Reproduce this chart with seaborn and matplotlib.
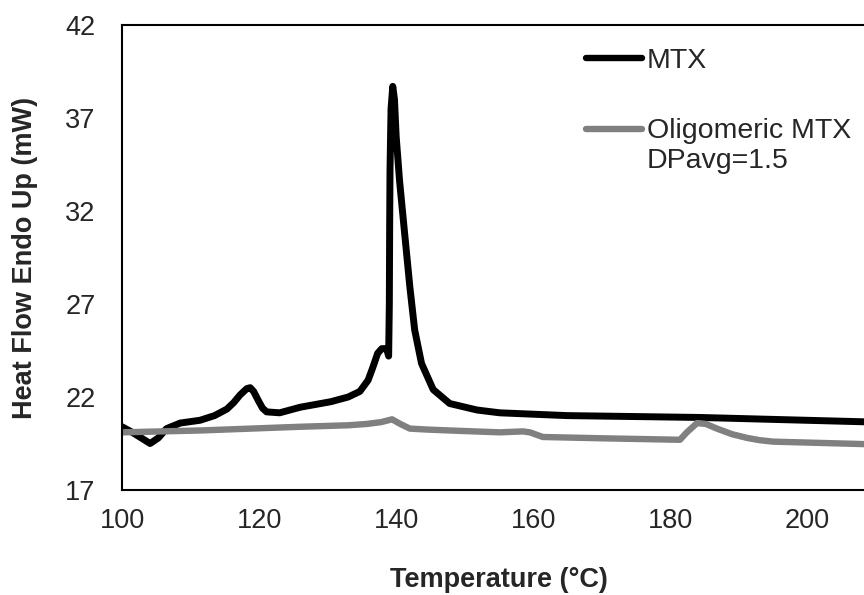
import matplotlib
matplotlib.use('Agg')
import matplotlib.pyplot as plt
import pandas as pd
import seaborn as sns

# MTX trace
mtx_temp = [100.0, 101.5, 102.8, 104.1, 105.3, 106.5, 108.5, 111.4, 113.5, 115.3, 116.3,
            117.2, 118.2, 118.7, 119.2, 119.9, 120.5, 121.1, 123.0, 126.0, 130.5,
            133.0, 134.7, 135.9, 136.6, 137.3, 137.9, 138.6, 138.9, 139.0, 139.05,
            139.1, 139.25, 139.5, 139.75, 140.0, 140.5, 141.1, 142.0, 142.7, 143.7,
            145.4, 147.8, 151.8, 155.1, 164.9, 184.3, 210.0]
mtx_heat = [20.4, 20.1, 19.8, 19.5, 19.8, 20.3, 20.6, 20.75, 21.0, 21.35, 21.7,
            22.1, 22.45, 22.5, 22.3, 21.8, 21.4, 21.2, 21.15, 21.45, 21.75,
            22.0, 22.3, 22.9, 23.6, 24.35, 24.6, 24.6, 24.2, 27.0, 31.2,
            34.2, 37.5, 38.7, 38.0, 36.0, 33.6, 31.3, 27.9, 25.6, 23.8,
            22.4, 21.65, 21.3, 21.15, 21.0, 20.9, 20.65]

# Oligomeric MTX DPavg=1.5 trace
olig_temp = [100.0, 111.4, 126.0, 133.0, 135.7, 137.8, 139.4, 140.6, 142.0, 144.5, 147.8,
             155.1, 158.5, 159.5, 161.4, 170.0, 181.4, 182.4, 183.9, 185.2, 186.8,
             189.0, 191.2, 193.0, 195.0, 200.0, 210.0]
olig_heat = [20.1, 20.2, 20.4, 20.48, 20.55, 20.65, 20.8, 20.55, 20.3, 20.25, 20.2,
             20.1, 20.15, 20.1, 19.85, 19.78, 19.7, 20.1, 20.6, 20.55, 20.3,
             20.0, 19.8, 19.68, 19.6, 19.55, 19.45]

x_ticks = [100, 120, 140, 160, 180, 200]
y_ticks = [17, 22, 27, 32, 37, 42]

df = pd.concat([
    pd.DataFrame({'T': mtx_temp, 'HF': mtx_heat, 'Sample': 'MTX'}),
    pd.DataFrame({'T': olig_temp, 'HF': olig_heat, 'Sample': 'Oligomeric MTX\nDPavg=1.5'}),
])

sns.set_style('white')
plt.rcParams['font.family'] = ['Liberation Sans', 'DejaVu Sans']

fig = plt.figure(figsize=(8.64, 5.95), dpi=100)
ax = fig.add_axes([122 / 864, 105 / 595, 754 / 864, 465 / 595])

sns.lineplot(data=df, x='T', y='HF', hue='Sample', sort=False, estimator=None,
             palette=['#000000', '#808080'], linewidth=5, ax=ax)
for line in ax.get_lines():
    line.set_solid_capstyle('round')
    line.set_solid_joinstyle('round')
ax.get_lines()[1].set_linewidth(4.6)

ax.set_xlim(100, 210)
ax.set_ylim(17, 42)
ax.set_xticks(x_ticks)
ax.set_yticks(y_ticks)
ax.tick_params(axis='both', length=0, labelsize=19.5)
ax.tick_params(axis='x', pad=13)
ax.tick_params(axis='y', pad=19)
for s in ax.spines.values():
    s.set_color('black')
    s.set_linewidth(1.5)

ax.set_xlabel('Temperature (°C)', fontsize=19.5, fontweight='bold', labelpad=24)
ax.set_ylabel('Heat Flow Endo Up (mW)', fontsize=19.5, fontweight='bold', labelpad=19.5)

leg = ax.legend(loc='upper left', bbox_to_anchor=(586 / 864, 1 - 48 / 595),
                bbox_transform=fig.transFigure, frameon=False, fontsize=20.5,
                handlelength=1.95, handletextpad=0.18, labelspacing=1.55,
                borderpad=0, borderaxespad=0)
for h, t in zip(leg.get_lines(), leg.get_texts()):
    h.set_linewidth(4.6)
    h.set_solid_capstyle('round')
    # Excel puts the marker next to the first line of a two-line label
    if '\n' in t.get_text():
        h.set_ydata([y + 12.6 for y in h.get_ydata()])

fig.savefig('out.png', dpi=100)
